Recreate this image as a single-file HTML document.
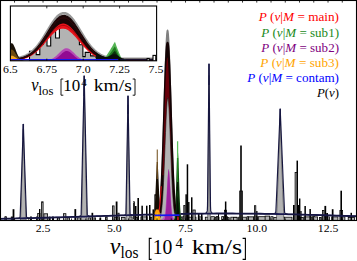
<!DOCTYPE html><html><head><meta charset="utf-8"><style>html,body{margin:0;padding:0;background:#fff}svg{display:block}</style></head><body><svg width="357" height="261" viewBox="0 0 357 261">
<rect width="357" height="261" fill="#fff"/>
<clipPath id="cm"><rect x="0.5" y="0.5" width="356" height="220"/></clipPath>
<clipPath id="ci"><rect x="10.4" y="6" width="146.2" height="54.8"/></clipPath>
<g clip-path="url(#cm)">
<rect x="4.7" y="216.8" width="1.7" height="3.5" fill="#000"/>
<rect x="11.3" y="217.2" width="1.1" height="3.1" fill="#b3b3b3" stroke="#000" stroke-width="0.8"/>
<rect x="30.3" y="216.8" width="1.4" height="3.5" fill="#000"/>
<rect x="36" y="216.8" width="1.8" height="3.5" fill="#000"/>
<rect x="48.7" y="216.8" width="1.7" height="3.5" fill="#000"/>
<rect x="52" y="216.8" width="1.8" height="3.5" fill="#000"/>
<rect x="57.4" y="218" width="2.2" height="2.3" fill="#b3b3b3" stroke="#000" stroke-width="0.8"/>
<rect x="67.1" y="217.9" width="2.5" height="2.4" fill="#b3b3b3" stroke="#000" stroke-width="0.8"/>
<rect x="77.2" y="217.9" width="3.4" height="2.4" fill="#b3b3b3" stroke="#000" stroke-width="0.8"/>
<rect x="88.1" y="217.9" width="2.5" height="2.4" fill="#b3b3b3" stroke="#000" stroke-width="0.8"/>
<rect x="94" y="217.9" width="1.6" height="2.4" fill="#b3b3b3" stroke="#000" stroke-width="0.8"/>
<rect x="99.5" y="217.5" width="1.7" height="2.8" fill="#000"/>
<rect x="105.4" y="217.7" width="1.4" height="2.6" fill="#b3b3b3" stroke="#000" stroke-width="0.8"/>
<rect x="112.4" y="217.7" width="7.2" height="2.6" fill="#b3b3b3" stroke="#000" stroke-width="0.8"/>
<rect x="121.4" y="217.4" width="3.7" height="2.9" fill="#b3b3b3" stroke="#000" stroke-width="0.8"/>
<rect x="128.4" y="216.9" width="3.7" height="3.4" fill="#b3b3b3" stroke="#000" stroke-width="0.8"/>
<rect x="135.4" y="217.4" width="2.2" height="2.9" fill="#b3b3b3" stroke="#000" stroke-width="0.8"/>
<rect x="140.9" y="216.9" width="6.2" height="3.4" fill="#b3b3b3" stroke="#000" stroke-width="0.8"/>
<rect x="150.4" y="217.2" width="1.4" height="3.1" fill="#b3b3b3" stroke="#000" stroke-width="0.8"/>
<rect x="154.1" y="216.7" width="2.2" height="3.6" fill="#b3b3b3" stroke="#000" stroke-width="0.8"/>
<rect x="157.1" y="217.4" width="4.7" height="2.9" fill="#b3b3b3" stroke="#000" stroke-width="0.8"/>
<rect x="164.1" y="216.9" width="6.2" height="3.4" fill="#b3b3b3" stroke="#000" stroke-width="0.8"/>
<rect x="175.1" y="216.7" width="4.7" height="3.6" fill="#b3b3b3" stroke="#000" stroke-width="0.8"/>
<rect x="180.6" y="216.9" width="1.4" height="3.4" fill="#b3b3b3" stroke="#000" stroke-width="0.8"/>
<rect x="182.8" y="216.7" width="2.2" height="3.6" fill="#b3b3b3" stroke="#000" stroke-width="0.8"/>
<rect x="188.3" y="217.2" width="7.7" height="3.1" fill="#b3b3b3" stroke="#000" stroke-width="0.8"/>
<rect x="198.3" y="216.9" width="3.7" height="3.4" fill="#b3b3b3" stroke="#000" stroke-width="0.8"/>
<rect x="205.3" y="217.2" width="4.7" height="3.1" fill="#b3b3b3" stroke="#000" stroke-width="0.8"/>
<rect x="210.8" y="216.7" width="3.7" height="3.6" fill="#b3b3b3" stroke="#000" stroke-width="0.8"/>
<rect x="215.3" y="217.2" width="3.7" height="3.1" fill="#b3b3b3" stroke="#000" stroke-width="0.8"/>
<rect x="223.8" y="216.7" width="3.7" height="3.6" fill="#b3b3b3" stroke="#000" stroke-width="0.8"/>
<rect x="230.8" y="217.2" width="6.2" height="3.1" fill="#b3b3b3" stroke="#000" stroke-width="0.8"/>
<rect x="238.6" y="217.2" width="7.7" height="3.1" fill="#b3b3b3" stroke="#000" stroke-width="0.8"/>
<rect x="247.1" y="216.7" width="1.4" height="3.6" fill="#b3b3b3" stroke="#000" stroke-width="0.8"/>
<rect x="249.3" y="217.2" width="3.7" height="3.1" fill="#b3b3b3" stroke="#000" stroke-width="0.8"/>
<rect x="253.8" y="216.7" width="3.7" height="3.6" fill="#b3b3b3" stroke="#000" stroke-width="0.8"/>
<rect x="258.3" y="216.7" width="7.7" height="3.6" fill="#b3b3b3" stroke="#000" stroke-width="0.8"/>
<rect x="270.8" y="216.7" width="2.2" height="3.6" fill="#b3b3b3" stroke="#000" stroke-width="0.8"/>
<rect x="273.8" y="217.4" width="3.7" height="2.9" fill="#b3b3b3" stroke="#000" stroke-width="0.8"/>
<rect x="279.8" y="216.9" width="3.7" height="3.4" fill="#b3b3b3" stroke="#000" stroke-width="0.8"/>
<rect x="284.3" y="217.2" width="7.7" height="3.1" fill="#b3b3b3" stroke="#000" stroke-width="0.8"/>
<rect x="296.8" y="217.2" width="2.8" height="3.1" fill="#b3b3b3" stroke="#000" stroke-width="0.8"/>
<rect x="300.4" y="217.4" width="2.8" height="2.9" fill="#b3b3b3" stroke="#000" stroke-width="0.8"/>
<rect x="304" y="216.9" width="7.7" height="3.4" fill="#b3b3b3" stroke="#000" stroke-width="0.8"/>
<rect x="312.5" y="216.7" width="2.2" height="3.6" fill="#b3b3b3" stroke="#000" stroke-width="0.8"/>
<rect x="319.5" y="217.4" width="1.4" height="2.9" fill="#b3b3b3" stroke="#000" stroke-width="0.8"/>
<rect x="321.7" y="216.9" width="7.7" height="3.4" fill="#b3b3b3" stroke="#000" stroke-width="0.8"/>
<rect x="331.7" y="216.9" width="6.2" height="3.4" fill="#b3b3b3" stroke="#000" stroke-width="0.8"/>
<rect x="341.2" y="216.9" width="3.7" height="3.4" fill="#b3b3b3" stroke="#000" stroke-width="0.8"/>
<rect x="348.2" y="217.4" width="6.2" height="2.9" fill="#b3b3b3" stroke="#000" stroke-width="0.8"/>
<rect x="5" y="216.7" width="1.3" height="3.6" fill="#b3b3b3" stroke="#000" stroke-width="0.8"/>
<rect x="11.3" y="217.1" width="1.3" height="3.2" fill="#b3b3b3" stroke="#000" stroke-width="0.8"/>
<rect x="12.6" y="209.2" width="1.8" height="11.1" fill="#000"/>
<rect x="30.2" y="216.5" width="1.5" height="3.8" fill="#000"/>
<rect x="36.4" y="217.1" width="1.7" height="3.2" fill="#b3b3b3" stroke="#000" stroke-width="0.8"/>
<rect x="37.7" y="213.4" width="2.3" height="6.9" fill="#b3b3b3" stroke="#000" stroke-width="0.8"/>
<rect x="39" y="209" width="1.4" height="11.3" fill="#000"/>
<rect x="41.6" y="201.8" width="1.5" height="18.5" fill="#b3b3b3" stroke="#000" stroke-width="0.8"/>
<rect x="43.9" y="213.8" width="3.7" height="6.5" fill="#b3b3b3" stroke="#000" stroke-width="0.8"/>
<rect x="48.7" y="216.7" width="1.7" height="3.6" fill="#000"/>
<rect x="52" y="216.7" width="1.8" height="3.6" fill="#000"/>
<rect x="63.4" y="213.7" width="2.5" height="6.6" fill="#b3b3b3" stroke="#000" stroke-width="0.8"/>
<rect x="74.4" y="209.1" width="1.8" height="11.2" fill="#000"/>
<rect x="91.5" y="212.8" width="1.7" height="7.5" fill="#000"/>
<rect x="105.7" y="216.9" width="1.4" height="3.4" fill="#b3b3b3" stroke="#000" stroke-width="0.8"/>
<rect x="112.4" y="205.9" width="1.7" height="14.4" fill="#b3b3b3" stroke="#000" stroke-width="0.8"/>
<rect x="115.7" y="201.5" width="1.8" height="18.8" fill="#000"/>
<rect x="117.9" y="213.2" width="1.2" height="7.1" fill="#b3b3b3" stroke="#000" stroke-width="0.8"/>
<rect x="133.4" y="201.8" width="1.2" height="18.5" fill="#b3b3b3" stroke="#000" stroke-width="0.8"/>
<rect x="135" y="206" width="1.5" height="14.3" fill="#000"/>
<rect x="137.4" y="198" width="1.6" height="22.3" fill="#000"/>
<rect x="141.4" y="205.7" width="1.5" height="14.6" fill="#000"/>
<rect x="146" y="205.7" width="1.5" height="14.6" fill="#000"/>
<rect x="149" y="205" width="1.5" height="15.3" fill="#000"/>
<rect x="152.5" y="209.4" width="1.7" height="10.9" fill="#000"/>
<rect x="154.8" y="194.7" width="1.5" height="25.6" fill="#b3b3b3" stroke="#000" stroke-width="0.8"/>
<rect x="183.8" y="205.4" width="1.2" height="14.9" fill="#b3b3b3" stroke="#000" stroke-width="0.8"/>
<rect x="185.4" y="194.3" width="1.5" height="26" fill="#000"/>
<rect x="186.7" y="164.3" width="1.5" height="56" fill="#000"/>
<rect x="188.1" y="202" width="1.4" height="18.3" fill="#000"/>
<rect x="191" y="197.3" width="1.5" height="23" fill="#000"/>
<rect x="192.9" y="210" width="2.3" height="10.3" fill="#b3b3b3" stroke="#000" stroke-width="0.8"/>
<rect x="197.9" y="213.4" width="1.6" height="6.9" fill="#000"/>
<rect x="201" y="213.4" width="1.5" height="6.9" fill="#000"/>
<rect x="216.3" y="216.6" width="1.5" height="3.7" fill="#b3b3b3" stroke="#000" stroke-width="0.8"/>
<rect x="218" y="213" width="1" height="7.3" fill="#000"/>
<rect x="221.7" y="216.6" width="1.9" height="3.7" fill="#b3b3b3" stroke="#000" stroke-width="0.8"/>
<rect x="224.4" y="210.2" width="2.2" height="10.1" fill="#b3b3b3" stroke="#000" stroke-width="0.8"/>
<rect x="224.9" y="201.5" width="1.5" height="18.8" fill="#000"/>
<rect x="227.4" y="217.6" width="1.8" height="2.7" fill="#b3b3b3" stroke="#000" stroke-width="0.8"/>
<rect x="233.4" y="217.4" width="3.7" height="2.9" fill="#b3b3b3" stroke="#000" stroke-width="0.8"/>
<rect x="239.7" y="191" width="2.7" height="29.3" fill="#b3b3b3" stroke="#000" stroke-width="0.8"/>
<rect x="240.2" y="145.5" width="1.6" height="74.8" fill="#000"/>
<rect x="248.4" y="216.9" width="5.2" height="3.4" fill="#b3b3b3" stroke="#000" stroke-width="0.8"/>
<rect x="254.4" y="205.7" width="1.4" height="14.6" fill="#b3b3b3" stroke="#000" stroke-width="0.8"/>
<rect x="256.2" y="211" width="1.3" height="9.3" fill="#000"/>
<rect x="265.1" y="216.1" width="4.5" height="4.2" fill="#b3b3b3" stroke="#000" stroke-width="0.8"/>
<rect x="293" y="205" width="1.7" height="15.3" fill="#000"/>
<rect x="295.1" y="172.4" width="2.3" height="47.9" fill="#b3b3b3" stroke="#000" stroke-width="0.8"/>
<rect x="296.5" y="160.6" width="1.5" height="59.7" fill="#000"/>
<rect x="297.8" y="205" width="1.2" height="15.3" fill="#000"/>
<rect x="299" y="198.5" width="1.4" height="21.8" fill="#000"/>
<rect x="300.3" y="211" width="1.3" height="9.3" fill="#000"/>
<rect x="304.4" y="206" width="1.5" height="14.3" fill="#000"/>
<rect x="309.4" y="209" width="1.5" height="11.3" fill="#000"/>
<rect x="313.4" y="216.9" width="4.2" height="3.4" fill="#b3b3b3" stroke="#000" stroke-width="0.8"/>
<rect x="322.4" y="210.4" width="1.6" height="9.9" fill="#b3b3b3" stroke="#000" stroke-width="0.8"/>
<rect x="324.4" y="205.9" width="1.8" height="14.4" fill="#000"/>
<rect x="326.2" y="213" width="1.8" height="7.3" fill="#000"/>
<rect x="331.8" y="209.2" width="1.7" height="11.1" fill="#000"/>
<rect x="339.9" y="210.4" width="2.7" height="9.9" fill="#b3b3b3" stroke="#000" stroke-width="0.8"/>
<rect x="340.4" y="190.7" width="1.6" height="29.6" fill="#000"/>
<rect x="350.5" y="212.8" width="1.5" height="7.5" fill="#000"/>
<path d="M20.1 220.3L20.1 220.3L20.37 220.3L20.63 217.92L20.9 209.78L21.17 201.28L21.43 192.58L21.7 183.76L21.97 174.83L22.23 165.81L22.5 156.73L22.77 147.58L23.03 138.37L23.3 129.12L23.57 138.37L23.83 147.58L24.1 156.73L24.37 165.81L24.63 174.83L24.9 183.76L25.17 192.58L25.43 201.28L25.7 209.78L25.97 217.92L26.23 220.3L26.5 220.3L26.5 220.3Z" fill="#b3b3b3" stroke="#000" stroke-width="0.45"/>
<path d="M81.1 220.3L81.1 220.3L81.36 220.3L81.62 216.75L81.88 204.56L82.13 191.85L82.39 178.84L82.65 165.64L82.91 152.29L83.17 138.8L83.43 125.21L83.68 111.53L83.94 97.76L84.2 83.92L84.46 97.76L84.72 111.53L84.98 125.21L85.23 138.8L85.49 152.29L85.75 165.64L86.01 178.84L86.27 191.85L86.53 204.56L86.78 216.75L87.04 220.3L87.3 220.3L87.3 220.3Z" fill="#b3b3b3" stroke="#000" stroke-width="0.45"/>
<path d="M125.9 220.3L125.9 220.3L126.08 220.3L126.25 217.29L126.43 206.98L126.6 196.22L126.78 185.21L126.95 174.04L127.12 162.73L127.3 151.32L127.48 139.82L127.65 128.24L127.83 116.58L128 104.87L128.18 116.58L128.35 128.24L128.53 139.82L128.7 151.32L128.88 162.73L129.05 174.04L129.22 185.21L129.4 196.22L129.58 206.98L129.75 217.29L129.93 220.3L130.1 220.3L130.1 220.3Z" fill="#b3b3b3" stroke="#000" stroke-width="0.45"/>
<path d="M207.45 220.3L207.45 220.3L207.58 220.3L207.71 216.52L207.84 203.58L207.97 190.06L208.1 176.25L208.22 162.22L208.35 148.03L208.48 133.7L208.61 119.26L208.74 104.72L208.87 90.09L209 75.38L209.13 90.09L209.26 104.72L209.39 119.26L209.52 133.7L209.65 148.03L209.77 162.22L209.9 176.25L210.03 190.06L210.16 203.58L210.29 216.52L210.42 220.3L210.55 220.3L210.55 220.3Z" fill="#b3b3b3" stroke="#000" stroke-width="0.45"/>
<path d="M275.8 220.3L275.8 220.3L276.17 220.3L276.53 217.65L276.9 208.55L277.27 199.05L277.63 189.34L278 179.48L278.37 169.51L278.73 159.44L279.1 149.29L279.47 139.07L279.83 128.79L280.2 118.45L280.57 128.79L280.93 139.07L281.3 149.29L281.67 159.44L282.03 169.51L282.4 179.48L282.77 189.34L283.13 199.05L283.5 208.55L283.87 217.65L284.23 220.3L284.6 220.3L284.6 220.3Z" fill="#b3b3b3" stroke="#000" stroke-width="0.45"/>
<path d="M152 220.3L152 220.19L152.28 220.09L152.55 219.91L152.82 219.62L153.1 219.15L153.38 218.41L153.65 217.3L153.93 215.69L154.2 213.45L154.47 210.45L154.75 206.63L155.03 201.94L155.3 196.46L155.57 190.36L155.85 183.95L156.12 177.62L156.4 171.85L156.68 167.12L156.95 163.86L157.22 162.37L157.5 162.81L157.78 165.14L158.05 169.12L158.32 174.38L158.6 180.46L158.88 186.88L159.15 193.19L159.43 199.04L159.7 204.17L159.97 208.47L160.25 211.91L160.53 214.55L160.8 216.49L161.07 217.86L161.35 218.78L161.62 219.39L161.9 219.77L162.18 220.01L162.45 220.14L162.72 220.22L163 220.26L163 220.3Z" fill="#150d04"/>
<path d="M157.3 149.4V172" stroke="#85683c" stroke-width="1.2" fill="none"/>
<path d="M157.3 162V179" stroke="#6b4a1c" stroke-width="1.3" fill="none"/>
<path d="M172 220.3L172 220.29L172.3 220.28L172.6 220.24L172.9 220.17L173.2 220.03L173.5 219.75L173.8 219.22L174.1 218.3L174.4 216.77L174.7 214.37L175 210.83L175.3 205.89L175.6 199.42L175.9 191.52L176.2 182.54L176.5 173.15L176.8 164.25L177.1 156.88L177.4 152.01L177.7 150.3L178 152.01L178.3 156.88L178.6 164.25L178.9 173.15L179.2 182.54L179.5 191.52L179.8 199.42L180.1 205.89L180.4 210.83L180.7 214.37L181 216.77L181.3 218.3L181.6 219.22L181.9 219.75L182.2 220.03L182.5 220.17L182.8 220.24L183.1 220.28L183.4 220.29L183.7 220.3L184 220.3L184 220.3Z" fill="#0b3d0b"/>
<path d="M172 220.3L172 220.3L172.3 220.3L172.6 220.3L172.9 220.3L173.2 220.3L173.5 220.3L173.8 220.3L174.1 220.29L174.4 220.25L174.7 220.15L175 219.86L175.3 219.16L175.6 217.67L175.9 214.89L176.2 210.33L176.5 203.86L176.8 196.04L177.1 188.27L177.4 182.46L177.7 180.3L178 182.46L178.3 188.27L178.6 196.04L178.9 203.86L179.2 210.33L179.5 214.89L179.8 217.67L180.1 219.16L180.4 219.86L180.7 220.15L181 220.25L181.3 220.29L181.6 220.3L181.9 220.3L182.2 220.3L182.5 220.3L182.8 220.3L183.1 220.3L183.4 220.3L183.7 220.3L184 220.3L184 220.3Z" fill="#031003"/>
<path d="M177.6 141.3V168" stroke="#5abf5a" stroke-width="1.25" fill="none"/>
<path d="M177.6 158V182" stroke="#1f8a1f" stroke-width="1.4" fill="none"/>
<path d="M159.17 212.3L159.52 209.94L159.87 207.03L160.22 203.49L160.57 199.24L160.91 194.2L161.26 188.32L161.61 181.53L161.96 173.81L162.31 165.17L162.66 155.64L163.01 145.29L163.36 134.23L163.71 122.63L164.06 110.67L164.41 98.6L164.76 86.67L165.11 75.18L165.45 64.43L165.8 54.71L166.15 46.3L166.5 39.47L166.85 34.43L167.2 31.34L167.55 30.3L167.9 31.34L168.25 34.43L168.6 39.47L168.95 46.3L169.3 54.71L169.65 64.43L169.99 75.18L170.34 86.67L170.69 98.6L171.04 110.67L171.39 122.63L171.74 134.23L172.09 145.29L172.44 155.64L172.79 165.17L173.14 173.81L173.49 181.53L173.84 188.32L174.19 194.2L174.53 199.24L174.88 203.49L175.23 207.03L175.58 209.94L175.93 212.3Z" fill="#808080" stroke="#808080" stroke-width="1.5" stroke-linejoin="round"/>
<path d="M159.26 212.3L159.6 210L159.95 207.18L160.3 203.76L160.64 199.67L160.99 194.86L161.33 189.25L161.68 182.82L162.02 175.54L162.37 167.41L162.71 158.48L163.06 148.81L163.4 138.52L163.75 127.74L164.1 116.67L164.44 105.51L164.79 94.51L165.13 83.94L165.48 74.06L165.82 65.14L166.17 57.44L166.51 51.19L166.86 46.58L167.2 43.75L167.55 42.8L167.9 43.75L168.24 46.58L168.59 51.19L168.93 57.44L169.28 65.14L169.62 74.06L169.97 83.94L170.31 94.51L170.66 105.51L171 116.67L171.35 127.74L171.7 138.52L172.04 148.81L172.39 158.48L172.73 167.41L173.08 175.54L173.42 182.82L173.77 189.25L174.11 194.86L174.46 199.67L174.8 203.76L175.15 207.18L175.5 210L175.84 212.3Z" fill="#140304" stroke="#140304" stroke-width="2.1" stroke-linejoin="round"/>
<path d="M162.41 175.3L162.61 170.32L162.81 165.03L163.02 159.46L163.22 153.62L163.43 147.55L163.63 141.28L163.83 134.85L164.04 128.31L164.24 121.71L164.45 115.11L164.65 108.57L164.85 102.15L165.06 95.92L165.26 89.94L165.46 84.29L165.67 79.02L165.87 74.2L166.08 69.9L166.28 66.16L166.48 63.02L166.69 60.55L166.89 58.75L167.1 57.66L167.3 57.3L167.5 57.66L167.71 58.75L167.91 60.55L168.12 63.02L168.32 66.16L168.52 69.9L168.73 74.2L168.93 79.02L169.14 84.29L169.34 89.94L169.54 95.92L169.75 102.15L169.95 108.57L170.15 115.11L170.36 121.71L170.56 128.31L170.77 134.85L170.97 141.28L171.17 147.55L171.38 153.62L171.58 159.46L171.79 165.03L171.99 170.32L172.19 175.3Z" fill="#68000a"/>
<path d="M158 220.3L158 220.03L158.5 219.81L159 219.42L159.5 218.78L160 217.76L160.5 216.19L161 213.86L161.5 210.51L162 205.91L162.5 199.79L163 192L163.5 182.47L164 171.33L164.5 158.88L165 145.7L165.5 132.52L166 120.26L166.5 109.87L167 102.22L167.5 98L168 97.61L168.5 101.08L169 108.09L169.5 118L170 129.97L170.5 143.03L171 156.28L171.5 168.93L172 180.37L172.5 190.23L173 198.37L173.5 204.81L174 209.7L174.5 213.28L175 215.79L175.5 217.5L176 218.61L176.5 219.31L177 219.74L177.5 220L178 220.14L178 220.3Z" fill="#b3b3b3" stroke="#1a0506" stroke-width="0.6"/>
<path d="M161.19 186.3L161.09 188L160.99 189.7L160.88 191.4L160.77 193.1L160.66 194.8L160.53 196.5L160.41 198.2L160.27 199.9L160.12 201.6L159.97 203.3L159.8 205L159.62 206.7L159.41 208.4L159.18 210.1L158.92 211.8L158.61 213.5L158.22 215.2L157.71 216.9L156.88 218.6L156.05 219.5" fill="none" stroke="#e0121a" stroke-width="1.1"/>
<path d="M154.2 220.3L154.6 213L156 209.5L158.5 209.5L159.9 213L160.4 220.3Z" fill="#ff9f0a"/>
<path d="M156 220.3L156.6 213.5L158 213.5L158.4 220.3Z" fill="#ffd21a"/>
<path d="M158 220.3L158 220.27L158.53 220.25L159.05 220.21L159.57 220.14L160.1 220.04L160.62 219.88L161.15 219.66L161.68 219.34L162.2 218.91L162.72 218.34L163.25 217.63L163.78 216.77L164.3 215.78L164.82 214.68L165.35 213.52L165.88 212.37L166.4 211.3L166.93 210.4L167.45 209.73L167.97 209.36L168.5 209.32L169.03 209.62L169.55 210.21L170.07 211.07L170.6 212.1L171.12 213.24L171.65 214.4L172.18 215.52L172.7 216.55L173.22 217.44L173.75 218.19L174.28 218.79L174.8 219.25L175.32 219.59L175.85 219.84L176.38 220.01L176.9 220.12L177.43 220.19L177.95 220.24L178.47 220.27L179 220.28L179 220.3Z" fill="#b862b8"/>
<path d="M161 220.3L161 220.29L161.38 220.28L161.75 220.25L162.12 220.19L162.5 220.08L162.88 219.88L163.25 219.54L163.62 218.96L164 218.03L164.38 216.62L164.75 214.57L165.12 211.73L165.5 208.02L165.88 203.4L166.25 197.99L166.62 192.02L167 185.9L167.38 180.14L167.75 175.31L168.12 171.92L168.5 170.37L168.88 170.85L169.25 173.29L169.62 177.41L170 182.75L170.38 188.74L170.75 194.85L171.12 200.6L171.5 205.67L171.88 209.87L172.25 213.16L172.62 215.61L173 217.34L173.38 218.51L173.75 219.26L174.12 219.72L174.5 219.99L174.88 220.14L175.25 220.22L175.62 220.26L176 220.28L176 220.3Z" fill="#b862b8"/>
<path d="M161 220.3L161 220.3L161.38 220.3L161.75 220.3L162.12 220.3L162.5 220.29L162.88 220.27L163.25 220.23L163.62 220.13L164 219.92L164.38 219.49L164.75 218.69L165.12 217.29L165.5 215.01L165.88 211.56L166.25 206.73L166.62 200.52L167 193.2L167.38 185.44L167.75 178.16L168.12 172.45L168.5 169.26L168.88 169.15L169.25 172.15L169.62 177.72L170 184.92L170.38 192.69L170.75 200.06L171.12 206.36L171.5 211.28L171.88 214.82L172.25 217.17L172.62 218.62L173 219.45L173.38 219.9L173.75 220.12L174.12 220.23L174.5 220.27L174.88 220.29L175.25 220.3L175.62 220.3L176 220.3L176 220.3Z" fill="#9d1f9d"/>
<path d="M173 220.3L173 220.23L173.25 220.17L173.5 220.06L173.75 219.88L174 219.6L174.25 219.15L174.5 218.49L174.75 217.54L175 216.24L175.25 214.52L175.5 212.35L175.75 209.73L176 206.72L176.25 203.45L176.5 200.09L176.75 196.88L177 194.07L177.25 191.92L177.5 190.63L177.75 190.32L178 191.03L178.25 192.69L178.5 195.13L178.75 198.13L179 201.43L179.25 204.78L179.5 207.97L179.75 210.83L180 213.27L180.25 215.26L180.5 216.81L180.75 217.96L181 218.79L181.25 219.35L181.5 219.73L181.75 219.97L182 220.11L182.25 220.2L182.5 220.25L182.75 220.27L183 220.29L183 220.3Z" fill="#0b3d0b"/>
<path d="M173 220.3L173 220.3L173.25 220.3L173.5 220.3L173.75 220.3L174 220.29L174.25 220.28L174.5 220.26L174.75 220.19L175 220.03L175.25 219.71L175.5 219.09L175.75 218L176 216.27L176.25 213.75L176.5 210.43L176.75 206.55L177 202.56L177.25 199.12L177.5 196.89L177.75 196.34L178 197.6L178.25 200.39L178.5 204.13L178.75 208.15L179 211.84L179.25 214.85L179.5 217.05L179.75 218.51L180 219.38L180.25 219.87L180.5 220.11L180.75 220.22L181 220.27L181.25 220.29L181.5 220.3L181.75 220.3L182 220.3L182.25 220.3L182.5 220.3L182.75 220.3L183 220.3L183 220.3Z" fill="#031003"/>
<path d="M177.3 216.5L178.6 216.5L178.8 220.3L177.1 220.3Z" fill="#e0121a"/>
<path d="M154.5 215.3L179.5 215.1" stroke="#1616f2" stroke-width="1.7" fill="none"/>
<path d="M0.5 218.8L4.5 218.72L8.5 218.64L12.5 218.55L16.5 218.46L20.5 218.36L24.5 218.27L28.5 218.17L32.5 218.07L36.5 217.96L40.5 217.85L44.5 217.75L48.5 217.63L52.5 217.52L56.5 217.4L60.5 217.28L64.5 217.16L68.5 217.04L72.5 216.92L76.5 216.79L80.5 216.67L84.5 216.54L88.5 216.42L92.5 216.29L96.5 216.16L100.5 216.03L104.5 215.9L108.5 215.78L112.5 215.65L116.5 215.53L120.5 215.4L124.5 215.28L128.5 215.16L132.5 215.04L136.5 214.93L140.5 214.81L144.5 214.7L148.5 214.6L152.5 214.49" fill="none" stroke="#1a1a52" stroke-width="1.8"/>
<path d="M180.5 213.89L184.5 213.83L188.5 213.77L192.5 213.71L196.5 213.66L200.5 213.62L204.5 213.59L208.5 213.56L212.5 213.53L216.5 213.51L220.5 213.5L224.5 213.5L228.5 213.5L232.5 213.51L236.5 213.53L240.5 213.55L244.5 213.58L248.5 213.61L252.5 213.65L256.5 213.7L260.5 213.75L264.5 213.81L268.5 213.88L272.5 213.95L276.5 214.02L280.5 214.1L284.5 214.19L288.5 214.28L292.5 214.37L296.5 214.47L300.5 214.57L304.5 214.68L308.5 214.79L312.5 214.9L316.5 215.01L320.5 215.13L324.5 215.25L328.5 215.37L332.5 215.49L336.5 215.62L340.5 215.75L344.5 215.87L348.5 216L352.5 216.13L356.5 216.26" fill="none" stroke="#1a1a52" stroke-width="1.8"/>
<path d="M23.3 124V139.7" stroke="#1a1a50" stroke-width="1.5" fill="none"/>
<path d="M84.2 75.65V96.01" stroke="#1a1a50" stroke-width="1.5" fill="none"/>
<path d="M128 95.87V114.07" stroke="#1a1a50" stroke-width="1.5" fill="none"/>
<path d="M209 63.85V85.09" stroke="#1a1a50" stroke-width="1.5" fill="none"/>
<path d="M280.2 108.79V125.59" stroke="#1a1a50" stroke-width="1.5" fill="none"/>
<path d="M0.5 218.8L2.5 218.76L4.5 218.72L6.5 218.68L8.5 218.64L10.5 218.59L12.5 218.55L14.5 218.5L14.7 218.5L14.9 218.49L15.1 218.49L15.3 218.48L15.5 218.48L15.7 218.47L15.9 218.47L16.1 218.46L16.3 218.45L16.5 218.44L16.7 218.43L16.9 218.42L17.1 218.41L17.3 218.39L17.5 218.37L17.7 218.34L17.9 218.31L18.1 218.27L18.3 218.22L18.5 218.16L18.7 218.09L18.9 218L19.1 217.9L19.3 217.78L19.5 217.64L19.7 217.48L19.9 217.3L20.1 217.09L20.3 212.01L20.5 206.57L20.7 200.97L20.9 195.26L21.1 189.48L21.3 183.63L21.5 177.74L21.7 171.81L21.9 165.86L22.1 159.9L22.3 153.93L22.5 147.97L22.7 142.01L22.9 136.08L23.1 130.18L23.3 124.3L23.3 124.3L23.5 130.17L23.7 136.06L23.9 141.99L24.1 147.93L24.3 153.88L24.5 159.84L24.7 165.79L24.9 171.73L25.1 177.65L25.3 183.54L25.5 189.37L25.7 195.15L25.9 200.84L26.1 206.43L26.3 211.87L26.5 216.94L26.7 217.13L26.9 217.3L27.1 217.45L27.3 217.58L27.5 217.69L27.7 217.79L27.9 217.86L28.1 217.93L28.3 217.98L28.5 218.02L28.7 218.05L28.9 218.07L29.1 218.09L29.3 218.1L29.5 218.11L29.7 218.11L29.9 218.11L30.1 218.11L30.3 218.11L30.5 218.11L30.7 218.11L30.9 218.1L31.1 218.1L31.3 218.1L31.5 218.09L31.7 218.09L31.9 218.08L32.1 218.08L32.3 218.07L32.5 218.07L34.5 218.01L36.5 217.96L38.5 217.91L40.5 217.85L42.5 217.8L44.5 217.75L46.5 217.69L48.5 217.63L50.5 217.58L52.5 217.52L54.5 217.46L56.5 217.4L58.5 217.34L60.5 217.28L62.5 217.22L64.5 217.16L66.5 217.1L68.5 217.04L70.5 216.98L72.5 216.92L74.5 216.86L76.5 216.79L76.7 216.78L76.9 216.78L77.1 216.77L77.3 216.76L77.5 216.75L77.7 216.73L77.9 216.72L78.1 216.7L78.3 216.67L78.5 216.65L78.7 216.61L78.9 216.56L79.1 216.5L79.3 216.43L79.5 216.35L79.7 216.24L79.9 216.11L80.1 215.96L80.3 215.78L80.5 215.57L80.7 215.32L80.9 215.05L81.1 214.74L81.3 206.88L81.5 198.46L81.7 189.8L81.9 180.98L82.1 172.03L82.3 162.99L82.5 153.88L82.7 144.72L82.9 135.52L83.1 126.31L83.3 117.1L83.5 107.9L83.7 98.73L83.9 89.59L84.1 80.48L84.2 75.95L84.3 80.48L84.5 89.57L84.7 98.69L84.9 107.86L85.1 117.04L85.3 126.24L85.5 135.44L85.7 144.62L85.9 153.77L86.1 162.87L86.3 171.9L86.5 180.83L86.7 189.64L86.9 198.29L87.1 206.69L87.3 214.54L87.5 214.84L87.7 215.1L87.9 215.33L88.1 215.53L88.3 215.7L88.5 215.84L88.7 215.96L88.9 216.05L89.1 216.12L89.3 216.18L89.5 216.23L89.7 216.26L89.9 216.28L90.1 216.3L90.3 216.31L90.5 216.32L90.7 216.32L90.9 216.32L91.1 216.32L91.3 216.32L91.5 216.31L91.7 216.31L91.9 216.3L92.1 216.3L92.3 216.29L92.5 216.29L92.7 216.28L92.9 216.27L93.1 216.27L95.1 216.2L97.1 216.14L99.1 216.08L101.1 216.01L103.1 215.95L105.1 215.89L107.1 215.82L109.1 215.76L111.1 215.7L113.1 215.63L115.1 215.57L117.1 215.51L119.1 215.45L121.1 215.38L123.1 215.32L123.3 215.31L123.5 215.3L123.7 215.28L123.9 215.26L124.1 215.23L124.3 215.18L124.5 215.12L124.7 215.03L124.9 214.92L125.1 214.76L125.3 214.56L125.5 214.31L125.7 213.99L125.9 213.62L126.1 203.61L126.3 192.87L126.5 181.82L126.7 170.56L126.9 159.17L127.1 147.7L127.3 136.19L127.5 124.69L127.7 113.23L127.9 101.84L128 96.17L128.1 101.83L128.3 113.22L128.5 124.66L128.7 136.15L128.9 147.64L129.1 159.1L129.3 170.48L129.5 181.73L129.7 192.77L129.9 203.49L130.1 213.49L130.3 213.86L130.5 214.16L130.7 214.4L130.9 214.59L131.1 214.73L131.3 214.84L131.5 214.91L131.7 214.96L131.9 214.99L132.1 215.01L132.3 215.02L132.5 215.03L132.7 215.03L132.9 215.02L133.1 215.02L133.3 215.02L133.5 215.01L133.7 215.01L133.9 215L134.1 214.99L134.3 214.99L134.5 214.98L134.7 214.98L136.7 214.92L138.7 214.86L140.7 214.81L142.7 214.75L144.7 214.7L146.7 214.64L148.7 214.59L150.7 214.54L152.7 214.49L154.7 214.44" fill="none" stroke="#16163f" stroke-width="1.15" stroke-linejoin="round"/>
<path d="M180.7 213.89L182.7 213.86L184.7 213.82L186.7 213.79L188.7 213.76L190.7 213.74L192.7 213.71L194.7 213.69L196.7 213.66L198.7 213.64L200.7 213.62L202.7 213.6L204.7 213.55L204.9 213.53L205.1 213.5L205.3 213.45L205.5 213.38L205.7 213.28L205.9 213.14L206.1 212.95L206.3 212.71L206.5 212.39L206.7 212.01L206.9 211.54L207.1 211L207.3 210.39L207.5 205.87L207.7 188.13L207.9 169.6L208.1 150.69L208.3 131.57L208.5 112.33L208.7 93.05L208.9 73.77L209 64.15L209.1 73.77L209.3 93.04L209.5 112.32L209.7 131.56L209.9 150.68L210.1 169.59L210.3 188.12L210.5 205.85L210.7 210.36L210.9 210.97L211.1 211.51L211.3 211.98L211.5 212.36L211.7 212.67L211.9 212.91L212.1 213.1L212.3 213.23L212.5 213.33L212.7 213.4L212.9 213.45L213.1 213.48L213.3 213.5L213.5 213.51L213.7 213.52L213.9 213.52L214.1 213.52L214.3 213.52L214.5 213.52L216.5 213.51L218.5 213.51L220.5 213.5L222.5 213.5L224.5 213.5L226.5 213.5L228.5 213.5L230.5 213.51L232.5 213.51L234.5 213.52L236.5 213.53L238.5 213.54L240.5 213.55L242.5 213.56L244.5 213.58L246.5 213.59L248.5 213.61L250.5 213.63L252.5 213.65L254.5 213.68L256.5 213.7L258.5 213.73L260.5 213.75L262.5 213.78L264.5 213.81L266.5 213.84L268.5 213.88L270.5 213.9L270.7 213.9L270.9 213.9L271.1 213.9L271.3 213.9L271.5 213.9L271.7 213.89L271.9 213.88L272.1 213.87L272.3 213.86L272.5 213.85L272.7 213.83L272.9 213.81L273.1 213.78L273.3 213.75L273.5 213.71L273.7 213.66L273.9 213.61L274.1 213.54L274.3 213.47L274.5 213.39L274.7 213.3L274.9 213.19L275.1 213.08L275.3 212.95L275.5 212.81L275.7 212.66L275.9 210.62L276.1 206.37L276.3 201.96L276.5 197.45L276.7 192.87L276.9 188.24L277.1 183.55L277.3 178.83L277.5 174.07L277.7 169.29L277.9 164.49L278.1 159.67L278.3 154.84L278.5 150L278.7 145.16L278.9 140.32L279.1 135.49L279.3 130.66L279.5 125.84L279.7 121.04L279.9 116.25L280.1 111.48L280.2 109.09L280.3 111.48L280.5 116.26L280.7 121.06L280.9 125.87L281.1 130.7L281.3 135.53L281.5 140.38L281.7 145.22L281.9 150.07L282.1 154.92L282.3 159.76L282.5 164.58L282.7 169.39L282.9 174.18L283.1 178.95L283.3 183.68L283.5 188.37L283.7 193.02L283.9 197.6L284.1 202.12L284.3 206.54L284.5 210.79L284.7 212.84L284.9 213L285.1 213.15L285.3 213.29L285.5 213.41L285.7 213.52L285.9 213.63L286.1 213.72L286.3 213.8L286.5 213.87L286.7 213.93L286.9 213.98L287.1 214.03L287.3 214.07L287.5 214.11L287.7 214.14L287.9 214.16L288.1 214.19L288.3 214.21L288.5 214.22L288.7 214.24L288.9 214.25L289.1 214.26L289.3 214.27L289.5 214.28L289.7 214.29L289.9 214.3L290.1 214.31L290.3 214.31L290.5 214.32L290.7 214.32L290.9 214.33L291.1 214.33L291.3 214.34L291.5 214.35L291.7 214.35L291.9 214.36L293.9 214.4L295.9 214.45L297.9 214.5L299.9 214.55L301.9 214.61L303.9 214.66L305.9 214.71L307.9 214.77L309.9 214.82L311.9 214.88L313.9 214.94L315.9 214.99L317.9 215.05L319.9 215.11L321.9 215.17L323.9 215.23L325.9 215.29L327.9 215.35L329.9 215.41L331.9 215.48L333.9 215.54L335.9 215.6L337.9 215.66L339.9 215.73L341.9 215.79L343.9 215.85L345.9 215.92L347.9 215.98L349.9 216.04L351.9 216.11L353.9 216.17L355.9 216.24" fill="none" stroke="#16163f" stroke-width="1.15" stroke-linejoin="round"/>
</g>
<rect x="0.5" y="0.5" width="356" height="220" fill="none" stroke="#000" stroke-width="1.1"/>
<path d="M0.29 0.5V2.6M0.29 220.5V218.4M14.54 0.5V2.6M14.54 220.5V218.4M28.79 0.5V2.6M28.79 220.5V218.4M43.04 0.5V2.6M43.04 220.5V218.4M57.28 0.5V2.6M57.28 220.5V218.4M71.53 0.5V2.6M71.53 220.5V218.4M85.78 0.5V2.6M85.78 220.5V218.4M100.03 0.5V2.6M100.03 220.5V218.4M114.28 0.5V2.6M114.28 220.5V218.4M128.53 0.5V2.6M128.53 220.5V218.4M142.78 0.5V2.6M142.78 220.5V218.4M157.03 0.5V2.6M157.03 220.5V218.4M171.28 0.5V2.6M171.28 220.5V218.4M185.53 0.5V2.6M185.53 220.5V218.4M199.78 0.5V2.6M199.78 220.5V218.4M214.03 0.5V2.6M214.03 220.5V218.4M228.28 0.5V2.6M228.28 220.5V218.4M242.53 0.5V2.6M242.53 220.5V218.4M256.78 0.5V2.6M256.78 220.5V218.4M271.03 0.5V2.6M271.03 220.5V218.4M285.28 0.5V2.6M285.28 220.5V218.4M299.53 0.5V2.6M299.53 220.5V218.4M313.78 0.5V2.6M313.78 220.5V218.4M328.03 0.5V2.6M328.03 220.5V218.4M342.28 0.5V2.6M342.28 220.5V218.4" stroke="#000" stroke-width="0.8"/>
<rect x="10.4" y="6" width="146.2" height="54.8" fill="#fff"/>
<g clip-path="url(#ci)">
<path d="M29.5 60.8L29.5 51.3L33 51.3L33 51.84L36.2 51.84L36.2 54.6L39.8 54.6L39.8 44.47L43.4 44.47L43.4 39.85L47 39.85L47 46L50.7 46L50.7 29.71L55.6 29.71L55.6 38L59.4 38L59.4 23.81L63 23.81L63 23.72L66.7 23.72L66.7 25.35L70.3 25.35L70.3 28.47L74 28.47L74 33.83L79.4 33.83L79.4 44.7L82.9 44.7L82.9 56.6L85.2 56.6L85.2 52.4L90.6 52.4L90.6 55.9L96 55.9L96 57.8L99.6 57.8L99.6 58.6L103.2 58.6L103.2 60.8Z" fill="#b3b3b3" stroke="#000" stroke-width="1.1" stroke-linejoin="miter"/>
<path d="M44 60.8L44 60.65L45.15 60.57L46.3 60.44L47.45 60.27L48.6 60.04L49.75 59.72L50.9 59.31L52.05 58.78L53.2 58.14L54.35 57.36L55.5 56.46L56.65 55.45L57.8 54.35L58.95 53.21L60.1 52.06L61.25 50.97L62.4 49.98L63.55 49.17L64.7 48.59L65.85 48.26L67 48.22L68.15 48.46L69.3 48.97L70.45 49.72L71.6 50.65L72.75 51.72L73.9 52.86L75.05 54.01L76.2 55.13L77.35 56.17L78.5 57.1L79.65 57.92L80.8 58.6L81.95 59.16L83.1 59.61L84.25 59.95L85.4 60.21L86.55 60.4L87.7 60.53L88.85 60.63L90 60.69L90 60.8Z" fill="#b548b5"/>
<path d="M44 60.8L44 60.79L45.15 60.77L46.3 60.75L47.45 60.71L48.6 60.65L49.75 60.55L50.9 60.39L52.05 60.17L53.2 59.85L54.35 59.41L55.5 58.84L56.65 58.12L57.8 57.27L58.95 56.29L60.1 55.23L61.25 54.15L62.4 53.12L63.55 52.22L64.7 51.53L65.85 51.11L67 51L68.15 51.22L69.3 51.74L70.45 52.51L71.6 53.47L72.75 54.53L73.9 55.61L75.05 56.64L76.2 57.58L77.35 58.39L78.5 59.05L79.65 59.58L80.8 59.97L81.95 60.26L83.1 60.46L84.25 60.59L85.4 60.67L86.55 60.73L87.7 60.76L88.85 60.78L90 60.79L90 60.8Z" fill="#920a92"/>
<path d="M10.4 58.63L11.62 58.56L12.84 58.48L14.05 58.38L15.27 58.25L16.49 58.1L17.71 57.92L18.93 57.71L20.15 57.45L21.37 57.15L22.58 56.8L23.8 56.39L25.02 55.92L26.24 55.37L27.46 54.75L28.67 54.04L29.89 53.24L31.11 52.35L32.33 51.36L33.55 50.25L34.77 49.05L35.98 47.73L37.2 46.3L38.42 44.76L39.64 43.13L40.86 41.39L42.08 39.58L43.29 37.68L44.51 35.73L45.73 33.72L46.95 31.7L48.17 29.67L49.39 27.65L50.6 25.68L51.82 23.76L53.04 21.94L54.26 20.24L55.48 18.67L56.7 17.26L57.91 16.04L59.13 15.02L60.35 14.21L61.57 13.64L62.79 13.3L64.01 13.21L65.22 13.36L66.44 13.76L67.66 14.4L68.88 15.26L70.1 16.33L71.32 17.6L72.53 19.05L73.75 20.65L74.97 22.39L76.19 24.23L77.41 26.15L78.63 28.14L79.84 30.16L81.06 32.18L82.28 34.2L83.5 36.19L84.72 38.12L85.94 40L87.15 41.79L88.37 43.5L89.59 45.11L90.81 46.61L92.03 48.01L93.25 49.3L94.47 50.48L95.68 51.55L96.9 52.52L98.12 53.39L99.34 54.17L100.56 54.86L101.78 55.46L102.99 55.99L104.21 56.45L105.43 56.85L106.65 57.19L107.87 57.48L109.08 57.73L110.3 57.93L111.52 58.11L112.74 58.26L113.96 58.38L115.18 58.48L116.39 58.56L117.61 58.63L118.83 58.68L120.05 58.73L121.27 58.76L122.49 58.79L123.7 58.82L124.92 58.83L126.14 58.85L127.36 58.86L128.58 58.87L129.8 58.88L131.01 58.88L132.23 58.89L133.45 58.89L134.67 58.89L135.89 58.89L137.11 58.9L138.32 58.9L139.54 58.9L140.76 58.9L141.98 58.9L143.2 58.9L144.42 58.9L145.63 58.9L146.85 58.9L148.07 58.9L149.29 58.9L150.51 58.9L151.73 58.9L152.94 58.9L154.16 58.9L155.38 58.9L156.6 58.9" fill="none" stroke="#999" stroke-width="2.6" stroke-linejoin="round"/>
<path d="M10.4 60.18L11.62 60.12L12.84 60.05L14.05 59.96L15.27 59.86L16.49 59.74L17.71 59.59L18.93 59.41L20.15 59.2L21.37 58.96L22.58 58.67L23.8 58.34L25.02 57.96L26.24 57.53L27.46 57.03L28.67 56.47L29.89 55.84L31.11 55.14L32.33 54.37L33.55 53.52L34.77 52.59L35.98 51.58L37.2 50.5L38.42 49.34L39.64 48.12L40.86 46.83L42.08 45.49L43.29 44.1L44.51 42.68L45.73 41.24L46.95 39.8L48.17 38.36L49.39 36.95L50.6 35.59L51.82 34.28L53.04 33.06L54.26 31.93L55.48 30.91L56.7 30.02L57.91 29.28L59.13 28.68L60.35 28.25L61.57 27.99L62.79 27.9L64.01 27.99L65.22 28.24L66.44 28.67L67.66 29.26L68.88 30.01L70.1 30.89L71.32 31.91L72.53 33.03L73.75 34.26L74.97 35.56L76.19 36.93L77.41 38.33L78.63 39.77L79.84 41.22L81.06 42.66L82.28 44.08L83.5 45.46L84.72 46.81L85.94 48.1L87.15 49.32L88.37 50.48L89.59 51.56L90.81 52.57L92.03 53.5L93.25 54.36L94.47 55.13L95.68 55.83L96.9 56.46L98.12 57.02L99.34 57.52L100.56 57.95L101.78 58.34L102.99 58.67L104.21 58.95L105.43 59.2L106.65 59.41L107.87 59.58L109.08 59.73L110.3 59.86L111.52 59.96L112.74 60.05L113.96 60.12L115.18 60.18L116.39 60.22L117.61 60.26L118.83 60.29L120.05 60.32L121.27 60.33L122.49 60.35L123.7 60.36L124.92 60.37L126.14 60.38L127.36 60.38L128.58 60.39L129.8 60.39L131.01 60.39L132.23 60.39L133.45 60.4L134.67 60.4L135.89 60.4L137.11 60.4L138.32 60.4L139.54 60.4L140.76 60.4L141.98 60.4L143.2 60.4L144.42 60.4L145.63 60.4L146.85 60.4L148.07 60.4L149.29 60.4L150.51 60.4L151.73 60.4L152.94 60.4L154.16 60.4L155.38 60.4L156.6 60.4L156.6 60L155.38 60L154.16 60L152.94 60L151.73 60L150.51 60L149.29 60L148.07 60L146.85 60L145.63 60L144.42 60L143.2 60L141.98 60L140.76 60L139.54 60L138.32 60L137.11 60L135.89 60L134.67 60L133.45 60L132.23 59.99L131.01 59.99L129.8 59.99L128.58 59.98L127.36 59.98L126.14 59.97L124.92 59.96L123.7 59.95L122.49 59.94L121.27 59.92L120.05 59.9L118.83 59.87L117.61 59.83L116.39 59.78L115.18 59.73L113.96 59.66L112.74 59.57L111.52 59.47L110.3 59.34L109.08 59.19L107.87 59.01L106.65 58.8L105.43 58.55L104.21 58.25L102.99 57.91L101.78 57.52L100.56 57.06L99.34 56.54L98.12 55.95L96.9 55.28L95.68 54.54L94.47 53.71L93.25 52.79L92.03 51.79L90.81 50.69L89.59 49.51L88.37 48.24L87.15 46.89L85.94 45.46L84.72 43.96L83.5 42.41L82.28 40.81L81.06 39.17L79.84 37.52L78.63 35.87L77.41 34.23L76.19 32.64L74.97 31.1L73.75 29.64L72.53 28.28L71.32 27.04L70.1 25.93L68.88 24.98L67.66 24.19L66.44 23.59L65.22 23.17L64.01 22.95L62.79 22.93L61.57 23.11L60.35 23.49L59.13 24.06L57.91 24.81L56.7 25.73L55.48 26.81L54.26 28.03L53.04 29.36L51.82 30.81L50.6 32.33L49.39 33.91L48.17 35.54L46.95 37.19L45.73 38.84L44.51 40.48L43.29 42.09L42.08 43.66L40.86 45.16L39.64 46.61L38.42 47.97L37.2 49.26L35.98 50.46L34.77 51.57L33.55 52.59L32.33 53.53L31.11 54.37L29.89 55.14L28.67 55.82L27.46 56.42L26.24 56.96L25.02 57.43L23.8 57.83L22.58 58.19L21.37 58.49L20.15 58.75L18.93 58.97L17.71 59.16L16.49 59.31L15.27 59.44L14.05 59.55L12.84 59.64L11.62 59.71L10.4 59.77Z" fill="#e8141c" stroke="#e8141c" stroke-width="1.3" stroke-linejoin="round"/>
<path d="M10.4 59.97L11.62 59.92L12.84 59.84L14.05 59.76L15.27 59.65L16.49 59.52L17.71 59.37L18.93 59.19L20.15 58.98L21.37 58.72L22.58 58.43L23.8 58.09L25.02 57.69L26.24 57.24L27.46 56.73L28.67 56.14L29.89 55.49L31.11 54.76L32.33 53.95L33.55 53.06L34.77 52.08L35.98 51.02L37.2 49.88L38.42 48.66L39.64 47.36L40.86 46L42.08 44.57L43.29 43.1L44.51 41.58L45.73 40.04L46.95 38.49L48.17 36.95L49.39 35.43L50.6 33.96L51.82 32.54L53.04 31.21L54.26 29.98L55.48 28.86L56.7 27.88L57.91 27.04L59.13 26.37L60.35 25.87L61.57 25.55L62.79 25.42L64.01 25.47L65.22 25.71L66.44 26.13L67.66 26.73L68.88 27.49L70.1 28.41L71.32 29.47L72.53 30.66L73.75 31.95L74.97 33.33L76.19 34.78L77.41 36.28L78.63 37.82L79.84 39.37L81.06 40.91L82.28 42.44L83.5 43.94L84.72 45.39L85.94 46.78L87.15 48.11L88.37 49.36L89.59 50.54L90.81 51.63L92.03 52.65L93.25 53.57L94.47 54.42L95.68 55.18L96.9 55.87L98.12 56.48L99.34 57.03L100.56 57.51L101.78 57.93L102.99 58.29L104.21 58.6L105.43 58.87L106.65 59.1L107.87 59.3L109.08 59.46L110.3 59.6L111.52 59.72L112.74 59.81L113.96 59.89L115.18 59.95L116.39 60L117.61 60.05L118.83 60.08L120.05 60.11L121.27 60.13L122.49 60.14L123.7 60.16L124.92 60.17L126.14 60.18L127.36 60.18L128.58 60.19L129.8 60.19L131.01 60.19L132.23 60.19L133.45 60.2L134.67 60.2L135.89 60.2L137.11 60.2L138.32 60.2L139.54 60.2L140.76 60.2L141.98 60.2L143.2 60.2L144.42 60.2L145.63 60.2L146.85 60.2L148.07 60.2L149.29 60.2L150.51 60.2L151.73 60.2L152.94 60.2L154.16 60.2L155.38 60.2L156.6 60.2" fill="none" stroke="#9a0008" stroke-width="0.7"/>
<path d="M10.4 59.77L11.62 59.71L12.84 59.64L14.05 59.55L15.27 59.44L16.49 59.31L17.71 59.16L18.93 58.97L20.15 58.75L21.37 58.49L22.58 58.19L23.8 57.83L25.02 57.43L26.24 56.96L27.46 56.42L28.67 55.82L29.89 55.14L31.11 54.37L32.33 53.53L33.55 52.59L34.77 51.57L35.98 50.46L37.2 49.26L38.42 47.97L39.64 46.61L40.86 45.16L42.08 43.66L43.29 42.09L44.51 40.48L45.73 38.84L46.95 37.19L48.17 35.54L49.39 33.91L50.6 32.33L51.82 30.81L53.04 29.36L54.26 28.03L55.48 26.81L56.7 25.73L57.91 24.81L59.13 24.06L60.35 23.49L61.57 23.11L62.79 22.93L64.01 22.95L65.22 23.17L66.44 23.59L67.66 24.19L68.88 24.98L70.1 25.93L71.32 27.04L72.53 28.28L73.75 29.64L74.97 31.1L76.19 32.64L77.41 34.23L78.63 35.87L79.84 37.52L81.06 39.17L82.28 40.81L83.5 42.41L84.72 43.96L85.94 45.46L87.15 46.89L88.37 48.24L89.59 49.51L90.81 50.69L92.03 51.79L93.25 52.79L94.47 53.71L95.68 54.54L96.9 55.28L98.12 55.95L99.34 56.54L100.56 57.06L101.78 57.52L102.99 57.91L104.21 58.25L105.43 58.55L106.65 58.8L107.87 59.01L109.08 59.19L110.3 59.34L111.52 59.47L112.74 59.57L113.96 59.66L115.18 59.73L116.39 59.78L117.61 59.83L118.83 59.87L120.05 59.9L121.27 59.92L122.49 59.94L123.7 59.95L124.92 59.96L126.14 59.97L127.36 59.98L128.58 59.98L129.8 59.99L131.01 59.99L132.23 59.99L133.45 60L134.67 60L135.89 60L137.11 60L138.32 60L139.54 60L140.76 60L141.98 60L143.2 60L144.42 60L145.63 60L146.85 60L148.07 60L149.29 60L150.51 60L151.73 60L152.94 60L154.16 60L155.38 60L156.6 60L156.6 59.4L155.38 59.4L154.16 59.4L152.94 59.4L151.73 59.4L150.51 59.4L149.29 59.4L148.07 59.4L146.85 59.4L145.63 59.4L144.42 59.4L143.2 59.4L141.98 59.4L140.76 59.4L139.54 59.4L138.32 59.4L137.11 59.4L135.89 59.4L134.67 59.4L133.45 59.39L132.23 59.39L131.01 59.39L129.8 59.39L128.58 59.38L127.36 59.37L126.14 59.37L124.92 59.35L123.7 59.34L122.49 59.32L121.27 59.3L120.05 59.27L118.83 59.23L117.61 59.18L116.39 59.13L115.18 59.05L113.96 58.97L112.74 58.86L111.52 58.73L110.3 58.57L109.08 58.38L107.87 58.16L106.65 57.89L105.43 57.58L104.21 57.21L102.99 56.78L101.78 56.29L100.56 55.72L99.34 55.07L98.12 54.34L96.9 53.52L95.68 52.6L94.47 51.58L93.25 50.45L92.03 49.22L90.81 47.88L89.59 46.43L88.37 44.88L87.15 43.24L85.94 41.51L84.72 39.7L83.5 37.83L82.28 35.9L81.06 33.95L79.84 31.98L78.63 30.02L77.41 28.09L76.19 26.21L74.97 24.41L73.75 22.72L72.53 21.15L71.32 19.74L70.1 18.49L68.88 17.44L67.66 16.59L66.44 15.96L65.22 15.56L64.01 15.4L62.79 15.48L61.57 15.8L60.35 16.35L59.13 17.13L57.91 18.11L56.7 19.29L55.48 20.65L54.26 22.17L53.04 23.83L51.82 25.59L50.6 27.44L49.39 29.36L48.17 31.31L46.95 33.28L45.73 35.24L44.51 37.18L43.29 39.07L42.08 40.9L40.86 42.66L39.64 44.34L38.42 45.92L37.2 47.4L35.98 48.77L34.77 50.04L33.55 51.21L32.33 52.26L31.11 53.22L29.89 54.07L28.67 54.84L27.46 55.51L26.24 56.1L25.02 56.62L23.8 57.07L22.58 57.46L21.37 57.79L20.15 58.07L18.93 58.31L17.71 58.51L16.49 58.68L15.27 58.82L14.05 58.93L12.84 59.03L11.62 59.1L10.4 59.17Z" fill="#190506" stroke="#190506" stroke-width="1.2" stroke-linejoin="round"/>
<path d="M10.4 59.37L11.62 59.31L12.84 59.23L14.05 59.14L15.27 59.03L16.49 58.89L17.71 58.73L18.93 58.53L20.15 58.3L21.37 58.02L22.58 57.7L23.8 57.32L25.02 56.89L26.24 56.39L27.46 55.81L28.67 55.16L29.89 54.43L31.11 53.6L32.33 52.68L33.55 51.67L34.77 50.55L35.98 49.34L37.2 48.02L38.42 46.6L39.64 45.09L40.86 43.5L42.08 41.82L43.29 40.08L44.51 38.28L45.73 36.44L46.95 34.58L48.17 32.72L49.39 30.88L50.6 29.07L51.82 27.33L53.04 25.67L54.26 24.12L55.48 22.71L56.7 21.44L57.91 20.34L59.13 19.44L60.35 18.73L61.57 18.24L62.79 17.97L64.01 17.92L65.22 18.1L66.44 18.5L67.66 19.12L68.88 19.95L70.1 20.97L71.32 22.17L72.53 23.53L73.75 25.03L74.97 26.64L76.19 28.35L77.41 30.14L78.63 31.97L79.84 33.82L81.06 35.69L82.28 37.54L83.5 39.35L84.72 41.12L85.94 42.83L87.15 44.46L88.37 46L89.59 47.46L90.81 48.82L92.03 50.07L93.25 51.23L94.47 52.29L95.68 53.24L96.9 54.11L98.12 54.88L99.34 55.56L100.56 56.17L101.78 56.7L102.99 57.16L104.21 57.56L105.43 57.9L106.65 58.19L107.87 58.44L109.08 58.65L110.3 58.83L111.52 58.98L112.74 59.1L113.96 59.2L115.18 59.28L116.39 59.35L117.61 59.4L118.83 59.44L120.05 59.48L121.27 59.51L122.49 59.53L123.7 59.54L124.92 59.56L126.14 59.57L127.36 59.58L128.58 59.58L129.8 59.59L131.01 59.59L132.23 59.59L133.45 59.59L134.67 59.6L135.89 59.6L137.11 59.6L138.32 59.6L139.54 59.6L140.76 59.6L141.98 59.6L143.2 59.6L144.42 59.6L145.63 59.6L146.85 59.6L148.07 59.6L149.29 59.6L150.51 59.6L151.73 59.6L152.94 59.6L154.16 59.6L155.38 59.6L156.6 59.6" fill="none" stroke="#3a0a0c" stroke-width="0.8"/>
<path d="M100 60.8L100 59.8L100.65 59.8L101.3 59.8L101.95 59.8L102.6 59.8L103.25 59.54L103.9 58.88L104.55 58.12L105.2 57.29L105.85 56.42L106.5 55.51L107.15 54.56L107.8 53.59L108.45 52.59L109.1 51.56L109.75 50.51L110.4 49.45L111.05 48.36L111.7 47.26L112.35 46.14L113 45L113.65 43.85L114.3 42.69L114.95 41.74L115.6 43.59L116.25 45.41L116.9 47.18L117.55 48.92L118.2 50.61L118.85 52.25L119.5 53.83L120.15 55.35L120.8 56.78L121.45 58.11L122.1 59.27L122.75 59.8L123.4 59.8L124.05 59.8L124.7 59.8L125.35 59.8L126 59.8L126 60.8Z" fill="#55b455"/>
<path d="M100 60.8L100 59.8L100.65 59.8L101.3 59.8L101.95 59.8L102.6 59.8L103.25 59.8L103.9 59.8L104.55 59.8L105.2 59.44L105.85 58.82L106.5 58.12L107.15 57.37L107.8 56.57L108.45 55.75L109.1 54.89L109.75 54.01L110.4 53.1L111.05 52.17L111.7 51.23L112.35 50.26L113 49.28L113.65 48.29L114.3 47.28L114.95 46.46L115.6 48.06L116.25 49.63L116.9 51.17L117.55 52.65L118.2 54.09L118.85 55.47L119.5 56.78L120.15 58L120.8 59.08L121.45 59.8L122.1 59.8L122.75 59.8L123.4 59.8L124.05 59.8L124.7 59.8L125.35 59.8L126 59.8L126 60.8Z" fill="#1f7a1f"/>
<path d="M100 60.8L100 59.8L100.65 59.8L101.3 59.8L101.95 59.8L102.6 59.8L103.25 59.8L103.9 59.8L104.55 59.8L105.2 59.8L105.85 59.51L106.5 59.05L107.15 58.54L107.8 57.99L108.45 57.41L109.1 56.81L109.75 56.18L110.4 55.54L111.05 54.88L111.7 54.21L112.35 53.52L113 52.82L113.65 52.1L114.3 51.38L114.95 50.79L115.6 51.94L116.25 53.07L116.9 54.16L117.55 55.22L118.2 56.24L118.85 57.22L119.5 58.13L120.15 58.97L120.8 59.67L121.45 59.8L122.1 59.8L122.75 59.8L123.4 59.8L124.05 59.8L124.7 59.8L125.35 59.8L126 59.8L126 60.8Z" fill="#0b300b"/>
<path d="M96 60.8L96 52.65L96.93 53.34L97.87 53.98L98.8 54.56L99.73 55.08L100.67 55.55L101.6 55.97L102.53 56.32L103.47 56.61L104.4 56.81L105.33 56.92L106.27 56.92L107.2 56.8L108.13 56.55L109.07 56.19L110 55.74L110.93 55.25L111.87 54.79L112.8 54.43L113.73 54.22L114.67 54.22L115.6 54.44L116.53 54.84L117.47 55.39L118.4 56.03L119.33 56.67L120.27 57.28L121.2 57.81L122.13 58.23L123.07 58.56L124 58.79L124 60.8Z" fill="#0a0f0a"/>
<path d="M10 60.8L10 44.65L10.4 44.06L10.8 43.62L11.2 43.33L11.6 43.21L12 43.25L12.4 43.45L12.8 43.82L13.2 44.34L13.6 44.99L14 45.76L14.4 46.63L14.8 47.58L15.2 48.57L15.6 49.6L16 50.65L16.4 51.68L16.8 52.68L17.2 53.64L17.6 54.55L18 55.39L18.4 56.17L18.8 56.87L19.2 57.5L19.6 58.05L20 58.53L20.4 58.95L20.8 59.3L21.2 59.6L21.6 59.85L22 60.05L22.4 60.22L22.8 60.35L23.2 60.46L23.6 60.54L24 60.6L24.4 60.65L24.8 60.69L25.2 60.72L25.6 60.74L26 60.76L26 60.8Z" fill="#1a1208"/>
<path d="M10 60.8L10 50.51L10.4 50.13L10.8 49.85L11.2 49.67L11.6 49.59L12 49.61L12.4 49.75L12.8 49.98L13.2 50.31L13.6 50.73L14 51.22L14.4 51.77L14.8 52.37L15.2 53.01L15.6 53.67L16 54.33L16.4 54.99L16.8 55.63L17.2 56.24L17.6 56.82L18 57.36L18.4 57.85L18.8 58.3L19.2 58.7L19.6 59.05L20 59.35L20.4 59.62L20.8 59.84L21.2 60.03L21.6 60.19L22 60.32L22.4 60.43L22.8 60.51L23.2 60.58L23.6 60.63L24 60.68L24.4 60.71L24.8 60.73L25.2 60.75L25.6 60.76L26 60.77L26 60.8Z" fill="#6b4a10"/>
<path d="M10 60.8L10 56.06L10.4 55.89L10.8 55.76L11.2 55.67L11.6 55.63L12 55.65L12.4 55.71L12.8 55.81L13.2 55.97L13.6 56.16L14 56.38L14.4 56.64L14.8 56.92L15.2 57.21L15.6 57.51L16 57.82L16.4 58.12L16.8 58.42L17.2 58.7L17.6 58.96L18 59.21L18.4 59.44L18.8 59.65L19.2 59.83L19.6 59.99L20 60.13L20.4 60.26L20.8 60.36L21.2 60.45L21.6 60.52L22 60.58L22.4 60.63L22.8 60.67L23.2 60.7L23.6 60.72L24 60.74L24.4 60.76L24.8 60.77L25.2 60.78L25.6 60.78L26 60.79L26 60.8Z" fill="#f5a623"/>
<path d="M10.4 59.7L118 59.7" stroke="#1414f0" stroke-width="1.6" fill="none"/>
<path d="M118 59.8L157 60" stroke="#14143c" stroke-width="1.3" fill="none"/>
<rect x="147.1" y="58.5" width="2.1" height="2.8" fill="#fff" stroke="#000" stroke-width="1.1"/>
<rect x="153" y="55.4" width="2.8" height="5.9" fill="#fff" stroke="#000" stroke-width="1.1"/>
</g>
<rect x="10.4" y="6" width="146.2" height="54.8" fill="none" stroke="#000" stroke-width="1.1"/>
<path d="M46.8 6V8.4M46.8 60.8V58.6" stroke="#000" stroke-width="0.8"/>
<path d="M83.2 6V8.4M83.2 60.8V58.6" stroke="#000" stroke-width="0.8"/>
<path d="M119.6 6V8.4M119.6 60.8V58.6" stroke="#000" stroke-width="0.8"/>
<g font-family="Liberation Serif, serif" fill="#000">
<text x="3.02" y="73.3" font-size="11" textLength="14.76" lengthAdjust="spacingAndGlyphs">6.5</text>
<text x="36.53" y="73.3" font-size="11" textLength="20.54" lengthAdjust="spacingAndGlyphs">6.75</text>
<text x="75.82" y="73.3" font-size="11" textLength="14.76" lengthAdjust="spacingAndGlyphs">7.0</text>
<text x="109.33" y="73.3" font-size="11" textLength="20.54" lengthAdjust="spacingAndGlyphs">7.25</text>
<text x="148.62" y="73.3" font-size="11" textLength="14.76" lengthAdjust="spacingAndGlyphs">7.5</text>
<text x="35.65" y="232.2" font-size="11" textLength="14.76" lengthAdjust="spacingAndGlyphs">2.5</text>
<text x="106.9" y="232.2" font-size="11" textLength="14.76" lengthAdjust="spacingAndGlyphs">5.0</text>
<text x="178.15" y="232.2" font-size="11" textLength="14.76" lengthAdjust="spacingAndGlyphs">7.5</text>
<text x="246.52" y="232.2" font-size="11" textLength="20.54" lengthAdjust="spacingAndGlyphs">10.0</text>
<text x="317.77" y="232.2" font-size="11" textLength="20.54" lengthAdjust="spacingAndGlyphs">12.5</text>
<text x="31.3" y="91.3" font-size="17.8" textLength="7.3" lengthAdjust="spacingAndGlyphs" font-style="italic">v</text>
<text x="38.5" y="94.6" font-size="12.2" textLength="14.9" lengthAdjust="spacingAndGlyphs">los</text>
<path d="M63.3 79H61V95.2H63.3" fill="none" stroke="#000" stroke-width="0.9"/>
<text x="63.3" y="91.3" font-size="16.3" textLength="17" lengthAdjust="spacingAndGlyphs">10</text>
<text x="81.3" y="86.3" font-size="11.1" textLength="5.7" lengthAdjust="spacingAndGlyphs">4</text>
<text x="93.8" y="91.3" font-size="16.3" textLength="38" lengthAdjust="spacingAndGlyphs">km/s</text>
<path d="M132.7 79H135V95.2H132.7" fill="none" stroke="#000" stroke-width="0.9"/>
<text x="109.8" y="254.3" font-size="23.4" textLength="10.6" lengthAdjust="spacingAndGlyphs" font-style="italic">v</text>
<text x="120.5" y="258" font-size="16" textLength="18" lengthAdjust="spacingAndGlyphs">los</text>
<path d="M151.6 238.4H149.3V259.4H151.6" fill="none" stroke="#000" stroke-width="1.1"/>
<text x="152.7" y="254.3" font-size="21.4" textLength="19.7" lengthAdjust="spacingAndGlyphs">10</text>
<text x="175.5" y="247.8" font-size="14.6" textLength="7.5" lengthAdjust="spacingAndGlyphs">4</text>
<text x="191.7" y="254.3" font-size="21.4" textLength="50.4" lengthAdjust="spacingAndGlyphs">km/s</text>
<path d="M242.6 238.4H245.4V259.4H242.6" fill="none" stroke="#000" stroke-width="1.1"/>
<text x="258.7" y="21.3" font-size="11.5" textLength="80.3" lengthAdjust="spacingAndGlyphs" fill="#ff0000"><tspan font-style="italic">P</tspan> (<tspan font-style="italic">v</tspan>|<tspan font-style="italic">M</tspan> = main)</text>
<text x="261.3" y="36.5" font-size="11.5" textLength="77.7" lengthAdjust="spacingAndGlyphs" fill="#1a8a1a"><tspan font-style="italic">P</tspan> (<tspan font-style="italic">v</tspan>|<tspan font-style="italic">M</tspan> = sub1)</text>
<text x="261.3" y="51.7" font-size="11.5" textLength="77.7" lengthAdjust="spacingAndGlyphs" fill="#800080"><tspan font-style="italic">P</tspan> (<tspan font-style="italic">v</tspan>|<tspan font-style="italic">M</tspan> = sub2)</text>
<text x="260.3" y="66.9" font-size="11.5" textLength="78.7" lengthAdjust="spacingAndGlyphs" fill="#ffa500"><tspan font-style="italic">P</tspan> (<tspan font-style="italic">v</tspan>|<tspan font-style="italic">M</tspan> = sub3)</text>
<text x="247.2" y="82.1" font-size="11.5" textLength="91.8" lengthAdjust="spacingAndGlyphs" fill="#0000ff"><tspan font-style="italic">P</tspan> (<tspan font-style="italic">v</tspan>|<tspan font-style="italic">M</tspan> = contam)</text>
<text x="317" y="97.3" font-size="11.5" textLength="22" lengthAdjust="spacingAndGlyphs"><tspan font-style="italic">P</tspan>(<tspan font-style="italic">v</tspan>)</text>
</g>
</svg></body></html>
